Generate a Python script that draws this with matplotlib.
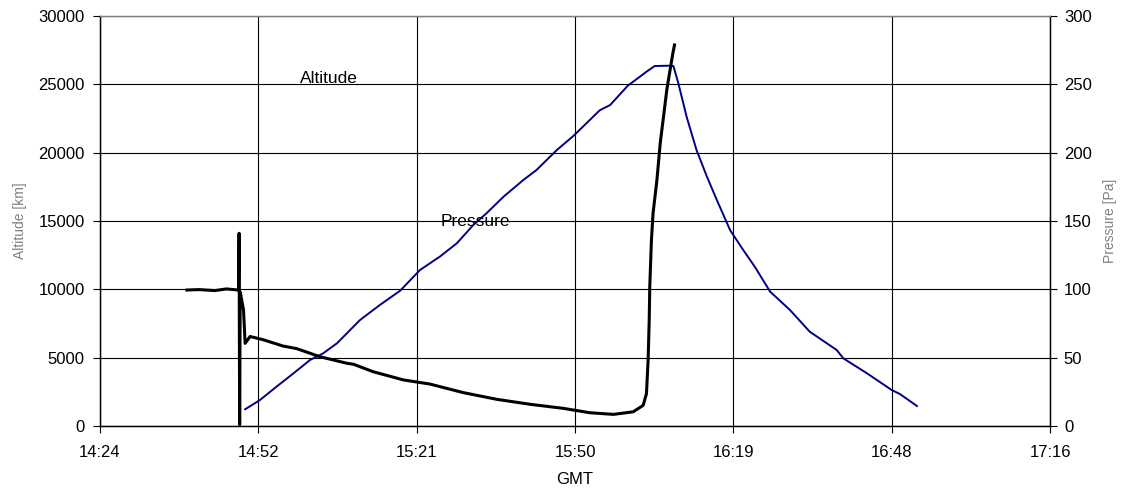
import matplotlib.pyplot as plt

plt.rcParams['font.family'] = ['Liberation Sans', 'DejaVu Sans']

# time in minutes after midnight (GMT)
alt_time = [890.4, 893.1, 896.1, 899.2, 902.2, 904.6, 907.1, 911.3, 914.9, 918.6,
            922.2, 925.8, 928.9, 931.9, 934.3, 937.4, 941.0, 943.4, 947.1, 950.1,
            954.9, 956.8, 960.0, 962.2, 963.4, 964.9, 967.6, 968.3, 969.2, 970.7,
            972.5, 974.4, 976.2, 978.6, 981.0, 983.1, 985.9, 989.5, 993.1, 998.0,
            999.2, 1003.5, 1008.0, 1009.5, 1012.6]
alt_m = [1222, 1902, 2876, 3856, 4829, 5319, 6051, 7756, 8854, 9900,
         11415, 12388, 13368, 14707, 15563, 16778, 18000, 18732, 20195, 21220,
         23100, 23488, 24900, 25558, 25924, 26341, 26363, 26341, 25075, 22631,
         20195, 18241, 16536, 14341, 12878, 11656, 9827, 8488, 6900, 5561,
         4954, 3856, 2634, 2341, 1463]

pres_time = [879.8, 882.0, 884.9, 887.0, 889.1, 889.2, 889.3, 889.4, 889.5, 889.6,
             890.1, 890.4, 891.3, 893.7, 897.3, 899.8, 904.0, 908.9, 910.1, 913.7,
             919.2, 924.0, 930.1, 936.2, 942.2, 948.3, 953.1, 957.4, 961.0, 962.8,
             963.4, 963.7, 963.9, 964.0, 964.3, 964.6, 965.3, 965.9, 966.5, 967.1,
             967.7, 968.2, 968.5]
pres_pa = [99.5, 99.8, 99.1, 100.3, 99.5, 100, 141, 1, 98, 96,
           85, 60.5, 65.5, 63.1, 58.5, 56.6, 50.7, 45.9, 45.2, 39.7,
           33.7, 30.7, 24.4, 19.5, 15.9, 12.9, 9.7, 8.5, 10.4, 15.1,
           23.7, 48.3, 77.5, 101.9, 136, 155.7, 180, 206.9, 226.3, 246,
           260.6, 272.8, 278.8]

x_ticks = [864, 892.8, 921.6, 950.4, 979.2, 1008, 1036.8]
x_labels = ["14:24", "14:52", "15:21", "15:50", "16:19", "16:48", "17:16"]

fig = plt.figure(figsize=(11.21, 4.91), dpi=100)
ax = fig.add_axes([100 / 1121, 65 / 491, 950 / 1121, 410 / 491])
ax2 = ax.twinx()

ax.plot(alt_time, alt_m, color='#000080', lw=1.4)
ax2.plot(pres_time, pres_pa, color='black', lw=2.2)

ax.set_xlim(864, 1036.8)
ax.set_ylim(0, 30000)
ax2.set_ylim(0, 300)
ax.set_xticks(x_ticks)
ax.set_xticklabels(x_labels)
ax.set_yticks(range(0, 30001, 5000))
ax2.set_yticks(range(0, 301, 50))

ax.grid(True, color='black', lw=0.8)
for a in (ax, ax2):
    a.tick_params(direction='out', length=5, width=0.8, labelsize=12, color='black')
    for s in a.spines.values():
        s.set_linewidth(0.9)
ax.tick_params(axis='y', pad=6)
ax.tick_params(axis='x', pad=8.5)
ax2.tick_params(axis='y', pad=5)
ax.spines['top'].set_color('#808080')
ax2.spines['top'].set_color('#808080')

ax.set_xlabel("GMT", fontsize=12, labelpad=9)
ax.set_ylabel("Altitude [km]", fontsize=10, color='#808080', labelpad=8.5)
ax2.set_ylabel("Pressure [Pa]", fontsize=10, color='#808080', rotation=90, labelpad=8)

ax.text(905.7, 25441, "Altitude", fontsize=12.5, ha='center', va='center')
ax.text(932.2, 14949, "Pressure", fontsize=12.5, ha='center', va='center')

fig.savefig("out.png", dpi=100)
